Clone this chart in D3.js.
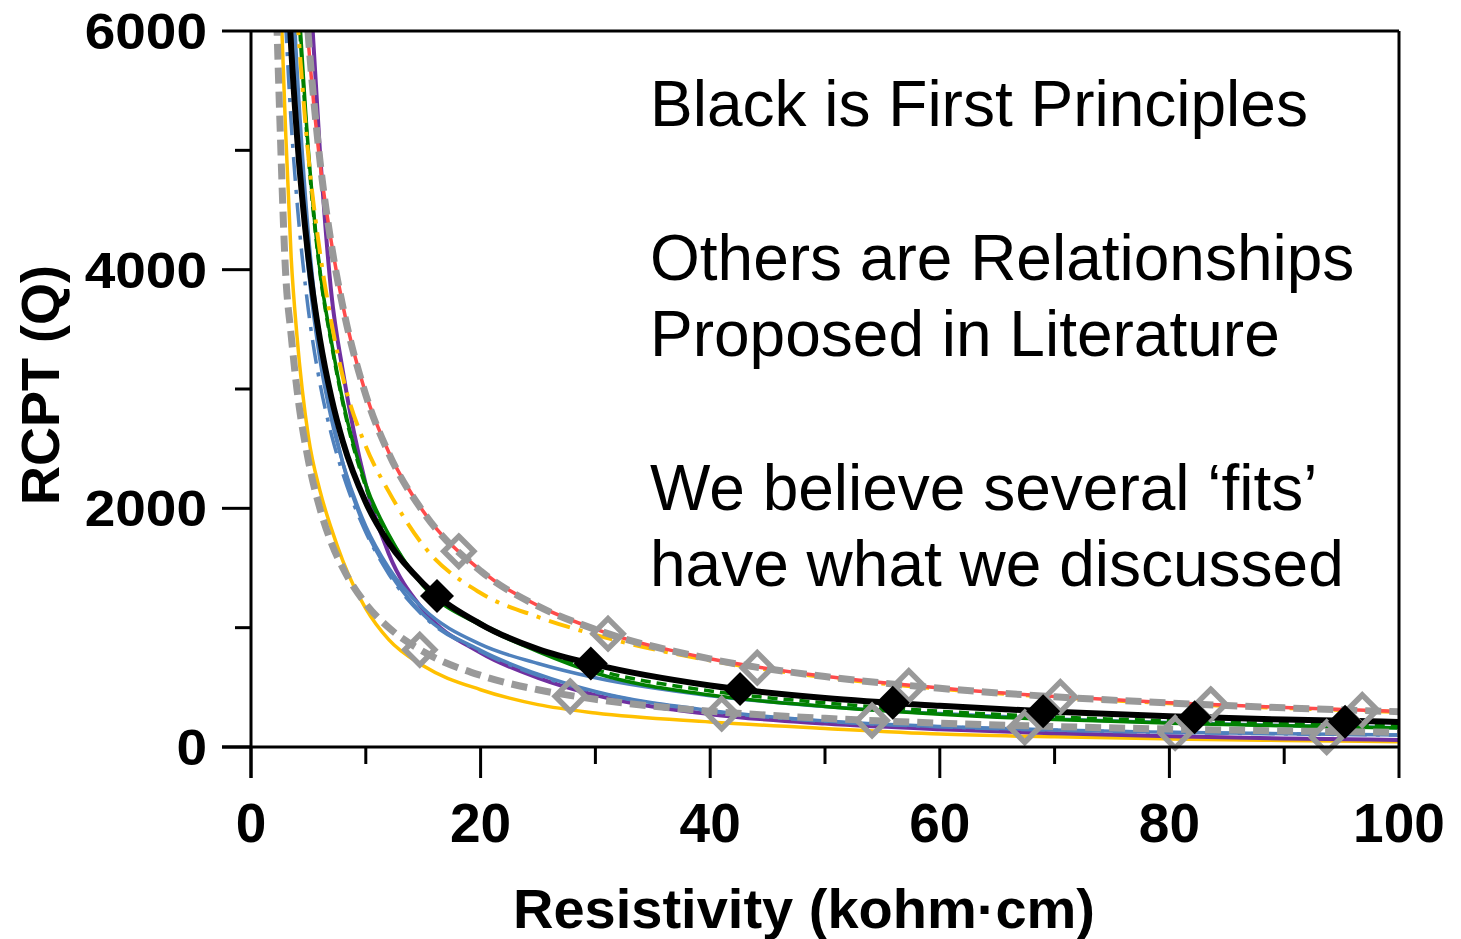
<!DOCTYPE html>
<html>
<head>
<meta charset="utf-8">
<script src="https://cdn.jsdelivr.net/npm/d3@7"></script>
<style>
  body { margin: 0; background: #fff; }
  svg text { font-family: Arial, "Liberation Sans", sans-serif; }
</style>
</head>
<body>
<svg id="chart" width="1461" height="939"></svg>
<script>
// resistivity grid (kohm·cm) the curves were read at
const resistivity = [2, 2.5, 3, 3.5, 4, 5, 6, 7, 8, 10, 12, 15, 20, 25, 30, 40, 50, 60, 70, 80, 90, 100];

// RCPT values (Q), null = above the plot
const firstPrinciples = [null, null, 6830, 5860, 5130, 4100, 3420, 2930, 2560, 2050, 1710, 1370, 1030, 820, 690, 515, 410, 345, 295, 258, 230, 210];
const upperGray = [null, null, null, null, 7400, 5950, 4920, 4210, 3690, 2950, 2460, 1970, 1475, 1180, 985, 738, 590, 492, 421, 369, 328, 296];
const redLine = [null, null, null, null, 7300, 5900, 4900, 4230, 3700, 2960, 2470, 1975, 1480, 1185, 988, 740, 592, 494, 423, 370, 330, 298];
const lowerGray = [6900, 5300, 4000, 3450, 3000, 2400, 2000, 1710, 1500, 1200, 1000, 800, 600, 480, 400, 300, 240, 200, 172, 150, 135, 122];
const yellowSolid = [null, 6500, 5200, 4100, 3450, 2600, 2150, 1830, 1560, 1160, 900, 680, 480, 355, 285, 210, 155, 108, 85, 68, 55, 45];
const yellowDash = [null, null, null, null, 6150, 4950, 4150, 3560, 3100, 2520, 2140, 1690, 1290, 1090, 940, 725, 585, 488, 418, 366, 326, 294];
const blueDashDot = [null, null, 6100, 5230, 4580, 3660, 3050, 2620, 2290, 1800, 1450, 1100, 800, 600, 460, 300, 215, 170, 140, 122, 110, 100];
const blueA = [null, null, null, 6100, 5200, 4000, 3250, 2750, 2380, 1850, 1500, 1160, 860, 700, 580, 430, 340, 280, 235, 205, 180, 162];
const blueB = [null, null, null, 6600, 5700, 4300, 3400, 2800, 2380, 1820, 1470, 1110, 810, 610, 465, 305, 218, 172, 142, 124, 111, 100];
const purple = [null, null, null, null, null, 6600, 5000, 3800, 3150, 2200, 1620, 1150, 790, 580, 435, 275, 196, 148, 115, 90, 72, 59];
const greenSolid = [null, null, null, null, 6500, 5000, 4000, 3400, 2900, 2200, 1780, 1350, 1020, 800, 620, 435, 340, 275, 230, 200, 178, 160];
const greenDash = [null, null, null, null, 6400, 4950, 3980, 3380, 2880, 2180, 1770, 1360, 1040, 820, 650, 470, 370, 300, 252, 220, 195, 178];

// marker points
const blackMarkR = [16.2, 29.6, 42.6, 55.9, 69.0, 82.2, 95.3];
const blackMarkQ = [1265, 700, 485, 370, 300, 250, 212];
const upperMarkR = [18.1, 31.1, 44.1, 57.3, 70.5, 83.6, 96.8];
const upperMarkQ = [1640, 950, 665, 512, 420, 358, 310];
const lowerMarkR = [14.7, 27.8, 41.0, 54.1, 67.4, 80.5, 93.7];
const lowerMarkQ = [815, 425, 280, 222, 165, 118, 82];

const xTicks = [0, 20, 40, 60, 80, 100];
const xMinor = [10, 30, 50, 70, 90];
const yTicks = [0, 2000, 4000, 6000];
const yMinor = [1000, 3000, 5000];

const notes = [
  "Black is First Principles",
  "Others are Relationships",
  "Proposed in Literature",
  "We believe several \u2018fits\u2019",
  "have what we discussed"
];
const noteY = [126, 280, 356, 510, 586];

const pLeft = 251, pRight = 1399, pTop = 31, pBottom = 747;

const svg = d3.select("#chart");

const x = d3.scaleLinear().domain([0, 100]).range([pLeft, pRight]);
const y = d3.scaleLinear().domain([0, 6000]).range([pBottom, pTop]);

svg.append("clipPath").attr("id", "plotclip")
  .append("rect")
  .attr("x", pLeft).attr("y", pTop)
  .attr("width", pRight - pLeft).attr("height", pBottom - pTop);

const plot = svg.append("g").attr("clip-path", "url(#plotclip)");

const line = d3.line()
  .defined(d => d[1] != null)
  .x(d => x(d[0]))
  .y(d => y(d[1]))
  .curve(d3.curveMonotoneX);

const toPts = arr => resistivity.map((r, i) => [r, arr[i]]);

// draw order: thin coloured first, gray dashes and black on top
const series = [
  { v: yellowSolid, color: "#ffc000", w: 3.5, dash: null },
  { v: purple, color: "#7030a0", w: 4, dash: null },
  { v: blueB, color: "#4f81bd", w: 3.5, dash: null },
  { v: blueA, color: "#4f81bd", w: 3.5, dash: null },
  { v: blueDashDot, color: "#4f81bd", w: 3.5, dash: "24,9,4,9" },
  { v: greenSolid, color: "#008000", w: 3.5, dash: null },
  { v: greenDash, color: "#008000", w: 3.5, dash: "10,6" },
  { v: yellowDash, color: "#ffc000", w: 4, dash: "22,9,4,9" },
  { v: redLine, color: "#ff4b4b", w: 3.5, dash: null },
  { v: upperGray, color: "#999999", w: 7, dash: "16,8" },
  { v: lowerGray, color: "#999999", w: 7, dash: "16,8" },
  { v: firstPrinciples, color: "#000000", w: 6, dash: null }
];

plot.selectAll("path.curve")
  .data(series)
  .enter()
  .append("path")
  .attr("class", "curve")
  .attr("d", d => line(toPts(d.v)))
  .attr("fill", "none")
  .attr("stroke", d => d.color)
  .attr("stroke-width", d => d.w)
  .attr("stroke-dasharray", d => d.dash);

const diamond = (cx, cy, r) => `M${cx},${cy - r}L${cx + r},${cy}L${cx},${cy + r}L${cx - r},${cy}Z`;

// open gray diamonds
const openPts = upperMarkR.map((r, i) => [r, upperMarkQ[i]])
  .concat(lowerMarkR.map((r, i) => [r, lowerMarkQ[i]]));
svg.selectAll("path.open")
  .data(openPts)
  .enter()
  .append("path")
  .attr("class", "open")
  .attr("d", d => diamond(x(d[0]), y(d[1]), 15))
  .attr("fill", "none")
  .attr("stroke", "#999999")
  .attr("stroke-width", 5.5);

// filled black diamonds
svg.selectAll("path.solid")
  .data(blackMarkR.map((r, i) => [r, blackMarkQ[i]]))
  .enter()
  .append("path")
  .attr("class", "solid")
  .attr("d", d => diamond(x(d[0]), y(d[1]), 17))
  .attr("fill", "#000");

// frame and axes
const ax = svg.append("g").attr("stroke", "#000").attr("stroke-width", 3);
ax.append("line").attr("x1", pLeft).attr("x2", pRight).attr("y1", pTop).attr("y2", pTop);
ax.append("line").attr("x1", pRight).attr("x2", pRight).attr("y1", pTop).attr("y2", pBottom);
ax.append("line").attr("x1", pLeft - 29).attr("x2", pRight).attr("y1", pBottom).attr("y2", pBottom);
ax.append("line").attr("x1", pLeft).attr("x2", pLeft).attr("y1", pTop).attr("y2", pBottom + 31);

ax.selectAll("line.xt").data(xTicks).enter().append("line")
  .attr("x1", d => x(d)).attr("x2", d => x(d))
  .attr("y1", pBottom).attr("y2", pBottom + 31);
ax.selectAll("line.xm").data(xMinor).enter().append("line")
  .attr("x1", d => x(d)).attr("x2", d => x(d))
  .attr("y1", pBottom).attr("y2", pBottom + 17);
ax.selectAll("line.yt").data(yTicks).enter().append("line")
  .attr("x1", pLeft - 29).attr("x2", pLeft)
  .attr("y1", d => y(d)).attr("y2", d => y(d));
ax.selectAll("line.ym").data(yMinor).enter().append("line")
  .attr("x1", pLeft - 16).attr("x2", pLeft)
  .attr("y1", d => y(d)).attr("y2", d => y(d));

// tick labels
svg.selectAll("text.xl").data(xTicks).enter().append("text")
  .attr("x", d => x(d)).attr("y", 842)
  .attr("text-anchor", "middle")
  .attr("font-size", 55).attr("font-weight", "bold")
  .text(d => d);

// y labels are drawn a bit wider than normal, like the original
svg.selectAll("text.yl").data(yTicks).enter().append("text")
  .attr("transform", d => `translate(207,${y(d) + 18}) scale(1.1,1)`)
  .attr("text-anchor", "end")
  .attr("font-size", 50).attr("font-weight", "bold")
  .text(d => d);

// axis titles
svg.append("text")
  .attr("x", 804).attr("y", 928)
  .attr("text-anchor", "middle")
  .attr("font-size", 56).attr("font-weight", "bold")
  .text("Resistivity (kohm\u00b7cm)");

svg.append("text")
  .attr("transform", "translate(59,385) rotate(-90)")
  .attr("text-anchor", "middle")
  .attr("font-size", 54).attr("font-weight", "bold")
  .text("RCPT (Q)");

// annotation text
svg.selectAll("text.note").data(notes).enter().append("text")
  .attr("x", 650).attr("y", (d, i) => noteY[i])
  .attr("font-size", 64)
  .text(d => d);
</script>
</body>
</html>
